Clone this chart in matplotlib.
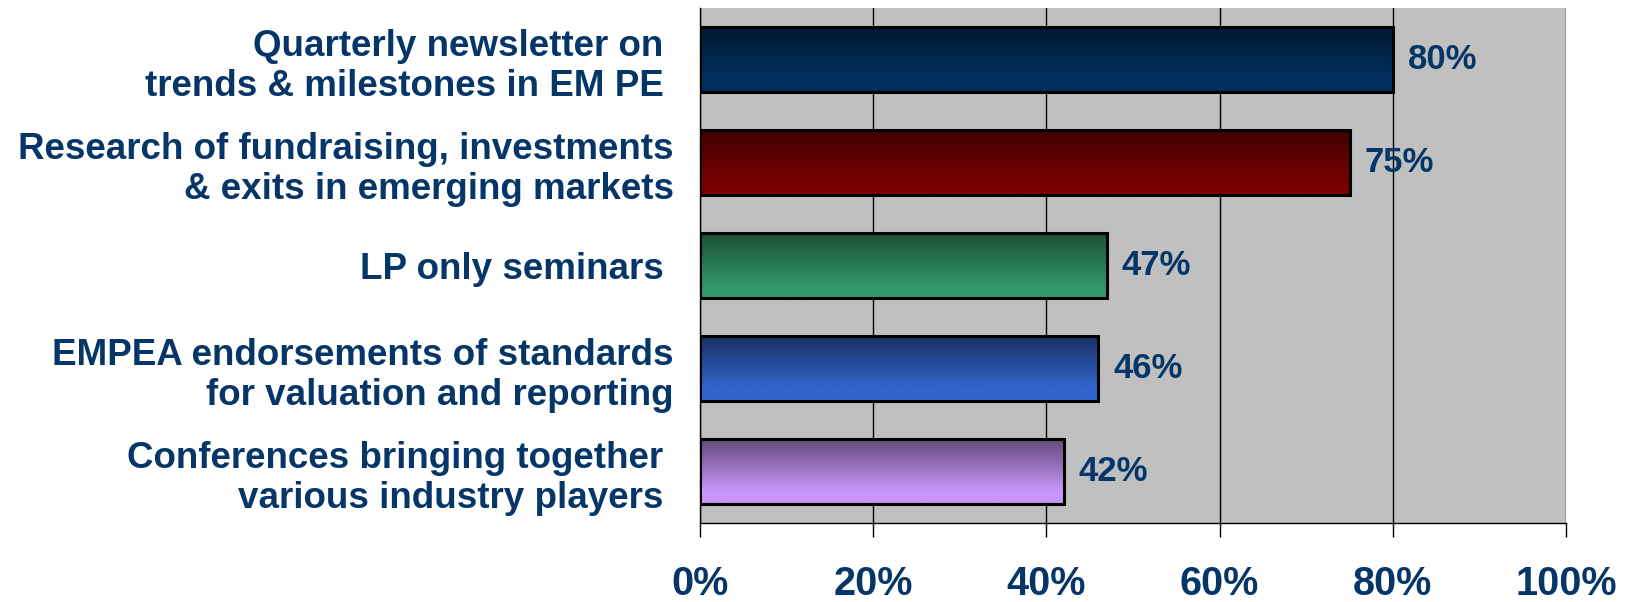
import numpy as np
import matplotlib
matplotlib.use("Agg")
import matplotlib.pyplot as plt
from matplotlib.colors import LinearSegmentedColormap
from matplotlib.ticker import FuncFormatter

# Survey results: share of LPs rating each EMPEA service as valuable
services = [
    "Quarterly newsletter on \ntrends & milestones in EM PE ",
    "Research of fundraising, investments\n& exits in emerging markets",
    "LP only seminars ",
    "EMPEA endorsements of standards\nfor valuation and reporting",
    "Conferences bringing together \nvarious industry players ",
]
shares = [80, 75, 47, 46, 42]
top_colors = ["#001a33", "#400000", "#1b4d35", "#1a2e62", "#614878"]
bottom_colors = ["#002f5e", "#780000", "#319669", "#3066cc", "#c896fa"]
x_ticks = [0, 20, 40, 60, 80, 100]

navy = "#063668"
plt.rcParams["font.family"] = ["Liberation Sans", "DejaVu Sans"]
plt.rcParams["font.weight"] = "bold"

fig = plt.figure(figsize=(16.34, 6.02), dpi=100)
ax = fig.add_axes([0.4284, 0.1312, 0.9584 - 0.4284, 0.9867 - 0.1312])
ax.set_facecolor("#c0c0c0")

y = np.arange(len(services))
bar_h = 0.64
bars = ax.barh(y, shares, height=bar_h, facecolor="none", edgecolor="black",
               linewidth=2.2, zorder=4)

# vertical gradient fill, dark on top, light at the bottom
grad = np.linspace(0, 1, 256).reshape(-1, 1)
grad = np.clip(grad / 0.8, 0, 1)
for bar, c0, c1 in zip(bars, top_colors, bottom_colors):
    cmap = LinearSegmentedColormap.from_list("g", [c0, c1])
    x0, y0 = bar.get_x(), bar.get_y()
    w, h = bar.get_width(), bar.get_height()
    # y axis is inverted, so y0 is the upper edge on screen
    ax.imshow(grad, cmap=cmap, aspect="auto", origin="upper",
              extent=(x0, x0 + w, y0 + h, y0), zorder=3, interpolation="bilinear")

for bar, v in zip(bars, shares):
    ax.text(bar.get_width() + 1.7, bar.get_y() + bar.get_height() / 2, f"{v}%",
            va="center", ha="left", fontsize=25, color=navy, fontweight="bold",
            zorder=5)

ax.set_xlim(0, 100)
ax.set_ylim(len(services) - 0.5, -0.5)
ax.set_xticks(x_ticks)
ax.xaxis.set_major_formatter(FuncFormatter(lambda v, _: f"{v:.0f}%"))
ax.grid(axis="x", color="black", linewidth=1.0, zorder=1)
ax.set_axisbelow(True)

ax.set_yticks(y)
ax.set_yticklabels(services, fontsize=26.5, color=navy, fontweight="bold",
                   linespacing=1.2)
ax.tick_params(axis="y", length=0, pad=19)
ax.tick_params(axis="x", direction="out", length=10, width=1, pad=20,
               labelsize=28.5, labelcolor=navy, color="black")

for side in ["top", "right"]:
    ax.spines[side].set_visible(False)
ax.spines["left"].set_color("black")
ax.spines["left"].set_linewidth(1.0)
ax.spines["bottom"].set_color("black")
ax.spines["bottom"].set_linewidth(1.0)

fig.savefig("out.png", dpi=100)
